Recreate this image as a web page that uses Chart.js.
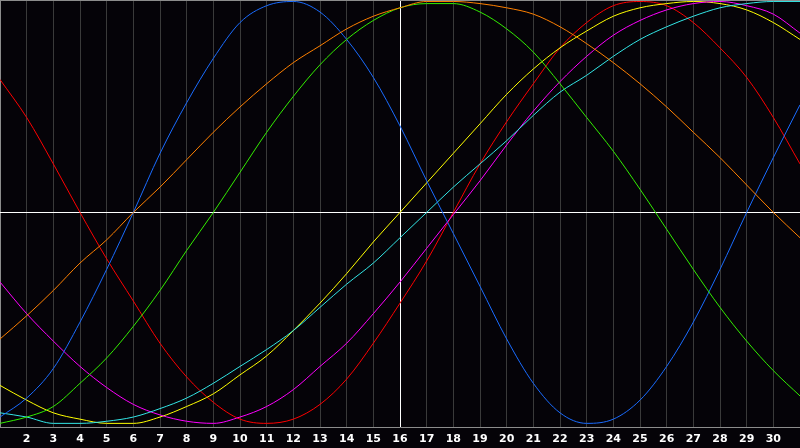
<!DOCTYPE html>
<html>
<head>
<meta charset="utf-8">
<script src="https://cdn.jsdelivr.net/npm/chart.js@4/dist/chart.umd.min.js"></script>
<style>
  html, body { margin: 0; padding: 0; background: #050308; }
  #wrap { width: 800px; height: 448px; position: relative; }
</style>
</head>
<body>
<div id="wrap"><canvas id="chart"></canvas></div>
<script>
// days of the month shown on the x axis
const days = [];
for (let d = 1; d <= 31; d++) days.push(String(d));

// curves, one value per day (-100..100)
const red     = [63,45,23,0,-22,-42,-62,-78,-90,-98,-100,-98,-91,-79,-62,-43,-23,0,23,43,61,78,90,98,100,98,90,78,64,45,23];
const blue    = [-97,-88,-74,-52,-27,0,28,52,73,90,98,100,95,82,64,41,15,-10,-35,-60,-81,-95,-100,-98,-89,-73,-52,-27,0,26,51];
const green   = [-100,-97,-92,-81,-69,-54,-37,-18,0,19,38,55,70,82,91,97,99,99,95,87,76,61,45,29,11,-8,-27,-45,-61,-75,-87];
const orange  = [-60,-49,-37,-24,-13,0,12,25,38,50,61,71,79,87,93,97,100,100,99,97,94,88,80,71,61,50,38,26,13,0,-12];
const yellow  = [-82,-89,-95,-98,-100,-100,-97,-92,-86,-77,-68,-56,-43,-29,-14,0,14,28,42,56,68,78,86,93,97,99,100,99,96,90,82];
const cyan    = [-95,-97,-100,-100,-99,-97,-93,-88,-81,-73,-65,-56,-45,-34,-24,-12,0,12,23,34,46,57,65,74,82,88,93,97,99,100,100];
const magenta = [-33,-48,-61,-73,-83,-91,-96,-99,-100,-97,-92,-84,-73,-62,-48,-33,-17,-1,15,32,48,62,74,84,91,96,99,100,98,94,85];

const todayIndex = 15; // day 16

function line(data, color) {
  return { data: data, borderColor: color, borderWidth: 1, pointRadius: 0, fill: false, cubicInterpolationMode: "monotone" };
}

window.onload = () => {
  const ctx = document.getElementById("chart").getContext("2d");
  new Chart(ctx, {
    type: "line",
    data: {
      labels: days,
      datasets: [
        line(orange, "#ff8000"),
        line(green, "#33ee00"),
        line(blue, "#1a6cff"),
        line(cyan, "#33e6e6"),
        line(magenta, "#ff00ff"),
        line(yellow, "#ffff00"),
        line(red, "#ff0000")
      ]
    },
    options: {
      responsive: true,
      maintainAspectRatio: false,
      animation: false,
      layout: { padding: { left: 0, right: 0, top: 0, bottom: 2 } },
      plugins: { legend: { display: false }, tooltip: { enabled: false } },
      scales: {
        x: {
          offset: false,
          border: { display: true, color: "#8c8c8c", width: 1 },
          grid: {
            drawTicks: true,
            tickLength: 5,
            tickColor: "rgba(0,0,0,0)",
            color: (c) => c.index === 0 ? "#8c8c8c" : (c.index === todayIndex ? "#ffffff" : (c.index === 30 ? "rgba(0,0,0,0)" : "#3a3a3a"))
          },
          ticks: {
            autoSkip: false,
            maxRotation: 0,
            padding: 0,
            color: "#ffffff",
            font: { family: "DejaVu Sans", size: 11, weight: "bold" },
            callback: (v, i) => (i === 0 || i === 30) ? "" : days[i]
          }
        },
        y: {
          min: -102.1,
          max: 100.7,
          border: { display: false },
          afterBuildTicks: (s) => { s.ticks = [{ value: -102.1 }, { value: 0 }, { value: 100.7 }]; },
          grid: {
            drawTicks: false,
            color: (c) => c.tick.value === 0 ? "#ffffff" : (c.tick.value > 0 ? "#8c8c8c" : "rgba(0,0,0,0)")
          },
          ticks: { display: false }
        }
      }
    }
  });
};
</script>
</body>
</html>
